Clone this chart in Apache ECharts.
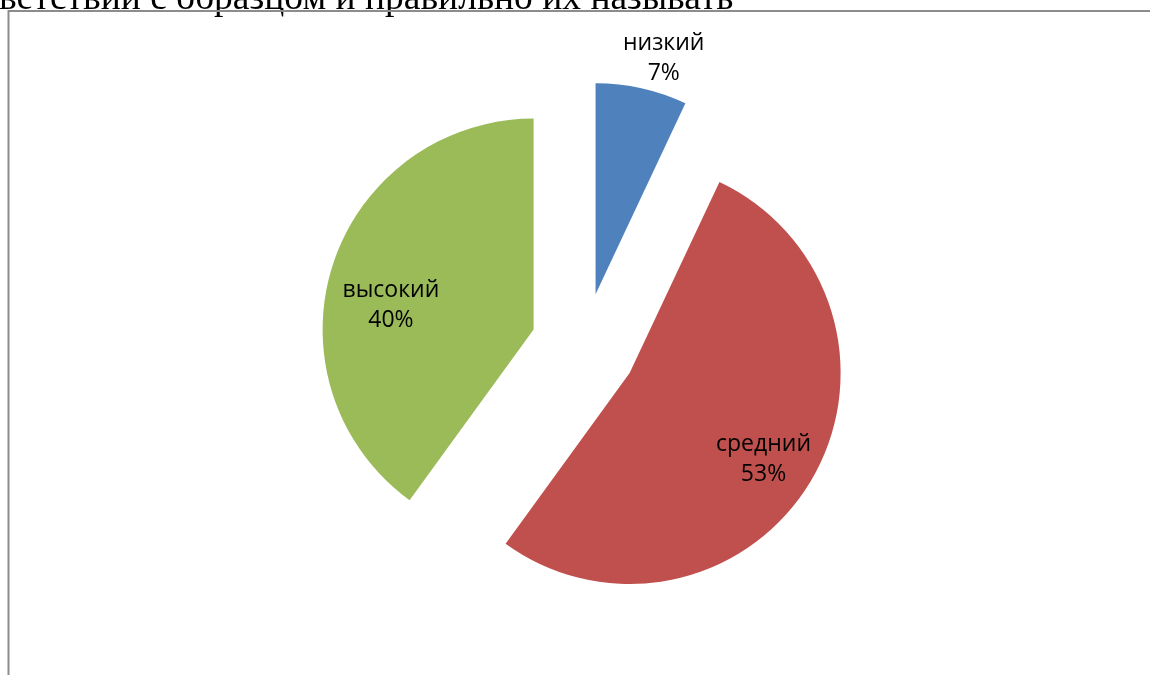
<!DOCTYPE html>
<html>
<head>
<meta charset="utf-8">
<script src="https://cdn.jsdelivr.net/npm/echarts@6/dist/echarts.min.js"></script>
<style>
html,body{margin:0;padding:0;background:#fff;}
#chart{width:1150px;height:675px;}
</style>
</head>
<body>
<div id="chart"></div>
<script>
var categories = ['низкий', 'средний', 'высокий'];
var values = [7, 53, 40];
var colors = ['#4F81BD', '#C0504D', '#9BBB59'];
var headerText = 'ветствии с образцом и правильно их называть';

// label nudges away from the default "inside" anchor
var padLeft = [89, 81, 0];
var padRight = [0, 0, 79];
var spaceAbove = [0, 62, 18];
var spaceBelow = [260, 0, 0];

var labelFont = '"Open Sans", sans-serif';

var chart = echarts.init(document.getElementById('chart'));
chart.setOption({
  animation: false,
  backgroundColor: '#ffffff',
  graphic: [
    {
      type: 'text',
      left: -1,
      top: -20,
      style: {
        text: headerText,
        font: '37.5px "Liberation Serif", "Times New Roman", serif',
        fill: '#000'
      }
    },
    {
      type: 'polyline',
      shape: { points: [[8.5, 680], [8.5, 11], [1160, 11]] },
      style: { stroke: '#8c8c8c', lineWidth: 2, fill: null }
    }
  ],
  series: [{
    type: 'pie',
    center: [584, 346],
    radius: [0, 211],
    startAngle: 90,
    clockwise: true,
    avoidLabelOverlap: false,
    selectedMode: 'multiple',
    selectedOffset: 53,
    emphasis: { disabled: true },
    label: {
      show: true,
      position: 'inside',
      formatter: function (p) {
        var i = p.dataIndex;
        var s = '';
        if (spaceAbove[i]) s += '{u| }\n';
        s += '{n|' + p.name + '}\n{n|' + p.value + '%}';
        if (spaceBelow[i]) s += '\n{d| }';
        return s;
      },
      color: '#000',
      align: 'center',
      verticalAlign: 'middle'
    },
    labelLine: { show: false },
    labelLayout: { hideOverlap: false },
    data: categories.map(function (c, i) {
      return {
        name: c, value: values[i], selected: true,
        itemStyle: { color: colors[i] },
        label: {
          padding: [0, padRight[i], 0, padLeft[i]],
          rich: {
            n: { fontFamily: labelFont, fontSize: 23, lineHeight: 30, color: '#000', align: 'center' },
            u: { fontSize: 1, lineHeight: spaceAbove[i] || 1 },
            d: { fontSize: 1, lineHeight: spaceBelow[i] || 1 }
          }
        }
      };
    })
  }]
});
</script>
</body>
</html>
